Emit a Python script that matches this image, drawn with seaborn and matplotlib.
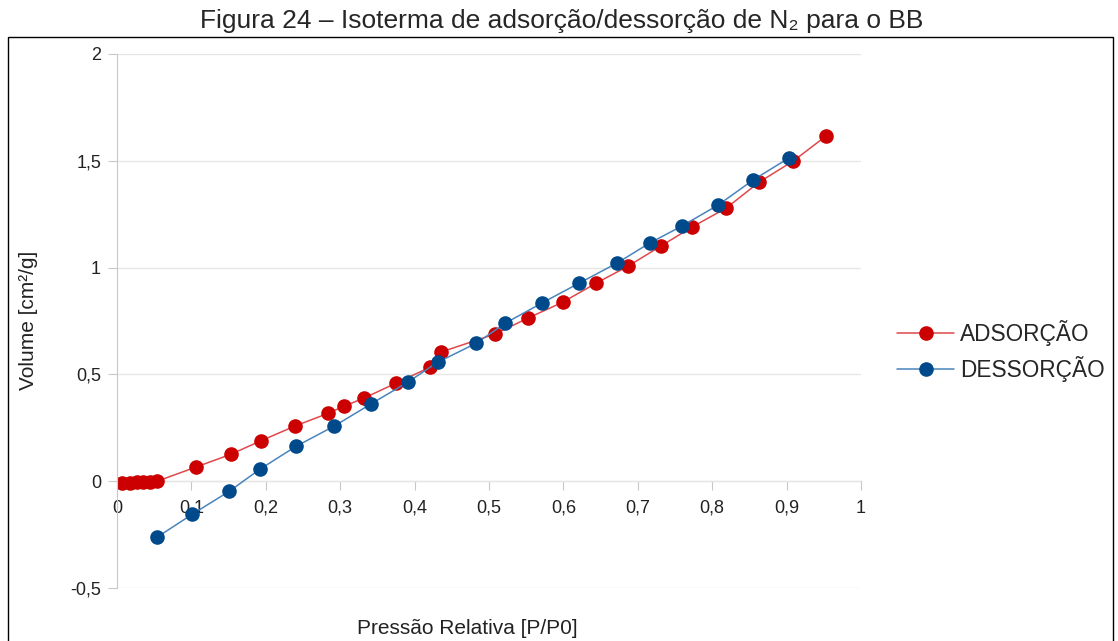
import matplotlib
matplotlib.use('Agg')
import matplotlib.pyplot as plt
import matplotlib.patches as mpatches
import matplotlib.ticker as mticker
import pandas as pd
import seaborn as sns

# Data
ads_p = [0.007, 0.017, 0.027, 0.035, 0.044, 0.054, 0.106, 0.153, 0.194, 0.239,
         0.284, 0.305, 0.332, 0.375, 0.421, 0.435, 0.508, 0.552, 0.599, 0.644,
         0.687, 0.731, 0.773, 0.819, 0.863, 0.909, 0.953]
ads_v = [-0.01, -0.008, -0.005, -0.003, -0.002, 0.0, 0.066, 0.126, 0.19, 0.258,
         0.318, 0.351, 0.389, 0.459, 0.534, 0.604, 0.689, 0.763, 0.838, 0.927,
         1.007, 1.101, 1.19, 1.279, 1.40, 1.499, 1.616]
des_p = [0.054, 0.101, 0.151, 0.192, 0.241, 0.292, 0.341, 0.391, 0.431, 0.483,
         0.522, 0.571, 0.621, 0.672, 0.716, 0.759, 0.808, 0.855, 0.903]
des_v = [-0.262, -0.155, -0.047, 0.056, 0.164, 0.258, 0.361, 0.464, 0.557, 0.646,
         0.74, 0.834, 0.927, 1.021, 1.115, 1.194, 1.293, 1.41, 1.513]
series_names = ['ADSORÇÃO', 'DESSORÇÃO']
marker_colors = ['#cc0000', '#004a8c']
line_colors = ['#e0484a', '#4a84bd']

df = pd.concat([
    pd.DataFrame({'p': ads_p, 'v': ads_v, 'serie': series_names[0]}),
    pd.DataFrame({'p': des_p, 'v': des_v, 'serie': series_names[1]}),
])

sns.set_style('white')
plt.rcParams['font.family'] = ['Liberation Sans', 'DejaVu Sans']

fig = plt.figure(figsize=(11.18, 6.41), dpi=100)
ax = fig.add_axes([117 / 1118, 1 - 588 / 641, (861 - 117) / 1118, (588 - 54) / 641])

sns.lineplot(data=df, x='p', y='v', hue='serie', palette=marker_colors,
             hue_order=series_names, marker='o', markersize=10.5,
             markeredgewidth=0, linewidth=1.1, sort=False, ax=ax,
             estimator=None, legend=False)

# lighter connecting lines, dark markers
for line, lc, mc in zip(ax.lines, line_colors, marker_colors):
    line.set_color(lc)
    line.set_markerfacecolor(mc)
    line.set_markeredgecolor(mc)

ax.set_xlim(0, 1)
ax.set_ylim(-0.5, 2)
ax.xaxis.set_major_locator(mticker.MultipleLocator(0.1))
ax.yaxis.set_major_locator(mticker.MultipleLocator(0.5))
fmt = mticker.FuncFormatter(lambda v, pos: ('%g' % round(v, 2)).replace('.', ','))
ax.xaxis.set_major_formatter(fmt)
ax.yaxis.set_major_formatter(fmt)

for s in ['top', 'right']:
    ax.spines[s].set_visible(False)
ax.spines['bottom'].set_position(('data', 0))
ax.spines['bottom'].set_color('#c8c8c8')
ax.spines['left'].set_color('#c8c8c8')
ax.spines['bottom'].set_zorder(0)
ax.grid(axis='y', color='#e6e6e6', linewidth=1)
ax.set_axisbelow(True)
ax.tick_params(axis='both', direction='out', length=6.5, color='#c8c8c8',
               labelsize=13, labelcolor='#222222', bottom=True, left=True, pad=5)
ax.tick_params(axis='x', pad=7)
ax.set_xlabel('')
ax.set_ylabel('')

fig.text(467 / 1118, 1 - 628 / 641, 'Pressão Relativa [P/P0]', ha='center',
         va='center', fontsize=15, color='#222222')
fig.text(28 / 1118, 1 - 320 / 641, 'Volume [cm²/g]', ha='center', va='center',
         rotation=90, fontsize=15, color='#222222')

fig.text(562 / 1118, 1 - 21 / 641, 'Figura 24 – Isoterma de adsorção/dessorção de N₂ para o BB',
         ha='center', va='center', fontsize=19)

# outer frame
fig.patches.append(mpatches.Rectangle((8 / 1118, -0.01), (1113 - 8) / 1118, 1 - 37 / 641 + 0.01,
                                      transform=fig.transFigure, fill=False,
                                      edgecolor='black', linewidth=1))

leg = ax.legend(ax.lines, series_names, loc='center left',
                bbox_to_anchor=(877 / 1118, 1 - 351 / 641),
                bbox_transform=fig.transFigure, frameon=False, fontsize=16.3,
                handlelength=2.5, handletextpad=0.25, labelspacing=0.42)

fig.savefig('out.png', dpi=100)
